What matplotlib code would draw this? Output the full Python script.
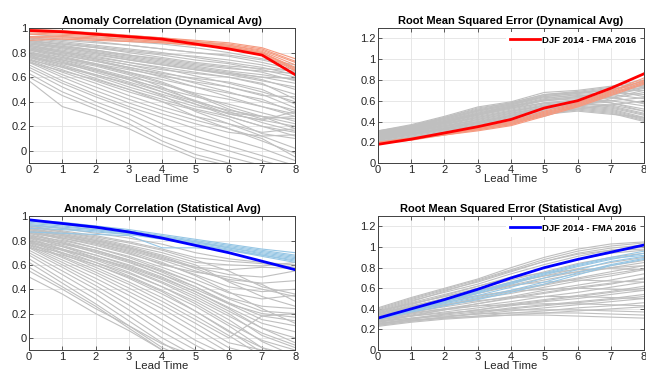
import matplotlib
matplotlib.use("Agg")
import matplotlib.pyplot as plt
import numpy as np

plt.rcParams["font.family"] = ["Liberation Sans", "DejaVu Sans"]

lead = [0, 1, 2, 3, 4, 5, 6, 7, 8]
etiqueta = "DJF 2014 - FMA 2016"

# ---- Anomaly correlation, dynamical average ----
ac_din_gris = [
    [0.95, 0.93, 0.91, 0.89, 0.87, 0.84, 0.80, 0.75, 0.70],
    [0.93, 0.91, 0.89, 0.86, 0.83, 0.80, 0.77, 0.72, 0.66],
    [0.92, 0.89, 0.86, 0.83, 0.80, 0.76, 0.72, 0.68, 0.62],
    [0.90, 0.87, 0.84, 0.81, 0.78, 0.74, 0.71, 0.66, 0.60],
    [0.89, 0.85, 0.82, 0.78, 0.75, 0.71, 0.68, 0.64, 0.57],
    [0.88, 0.84, 0.80, 0.76, 0.72, 0.68, 0.64, 0.60, 0.55],
    [0.87, 0.83, 0.79, 0.74, 0.70, 0.66, 0.63, 0.58, 0.50],
    [0.86, 0.81, 0.76, 0.72, 0.68, 0.64, 0.60, 0.54, 0.46],
    [0.85, 0.80, 0.75, 0.70, 0.66, 0.63, 0.60, 0.55, 0.42],
    [0.84, 0.78, 0.73, 0.68, 0.63, 0.59, 0.56, 0.50, 0.38],
    [0.83, 0.77, 0.71, 0.66, 0.61, 0.56, 0.52, 0.46, 0.35],
    [0.82, 0.76, 0.70, 0.64, 0.58, 0.52, 0.47, 0.42, 0.31],
    [0.81, 0.74, 0.67, 0.60, 0.54, 0.47, 0.42, 0.36, 0.28],
    [0.80, 0.73, 0.66, 0.58, 0.51, 0.44, 0.38, 0.31, 0.24],
    [0.79, 0.72, 0.64, 0.56, 0.48, 0.40, 0.33, 0.28, 0.22],
    [0.78, 0.70, 0.62, 0.54, 0.46, 0.38, 0.30, 0.25, 0.20],
    [0.77, 0.69, 0.61, 0.52, 0.44, 0.36, 0.31, 0.28, 0.26],
    [0.76, 0.68, 0.59, 0.50, 0.42, 0.34, 0.28, 0.20, 0.15],
    [0.75, 0.66, 0.57, 0.48, 0.40, 0.33, 0.26, 0.14, 0.10],
    [0.74, 0.64, 0.55, 0.45, 0.36, 0.28, 0.22, 0.12, 0.02],
    [0.73, 0.62, 0.52, 0.42, 0.33, 0.25, 0.18, 0.10, -0.05],
    [0.72, 0.60, 0.49, 0.39, 0.30, 0.22, 0.15, 0.12, 0.13],
    [0.70, 0.57, 0.46, 0.36, 0.27, 0.18, 0.10, 0.02, -0.08],
    [0.68, 0.55, 0.44, 0.34, 0.22, 0.12, 0.04, -0.04, -0.12],
    [0.66, 0.52, 0.40, 0.30, 0.18, 0.08, 0.00, -0.08, -0.15],
    [0.63, 0.48, 0.37, 0.26, 0.12, 0.03, -0.05, -0.12, -0.20],
    [0.60, 0.45, 0.34, 0.22, 0.08, -0.03, -0.10, -0.15, -0.20],
    [0.57, 0.36, 0.28, 0.18, 0.05, -0.06, -0.12, -0.20, -0.20],
    [0.90, 0.86, 0.82, 0.78, 0.74, 0.70, 0.67, 0.65, 0.63],
    [0.88, 0.85, 0.81, 0.77, 0.73, 0.69, 0.65, 0.62, 0.58],
    [0.86, 0.82, 0.78, 0.74, 0.70, 0.66, 0.62, 0.57, 0.52],
    [0.84, 0.80, 0.75, 0.70, 0.64, 0.58, 0.52, 0.45, 0.44],
    [0.82, 0.78, 0.73, 0.67, 0.60, 0.52, 0.44, 0.36, 0.30],
    [0.80, 0.76, 0.71, 0.64, 0.56, 0.46, 0.36, 0.28, 0.18],
    [0.78, 0.74, 0.69, 0.62, 0.52, 0.40, 0.30, 0.25, 0.32],
    [0.76, 0.71, 0.65, 0.58, 0.48, 0.38, 0.28, 0.20, 0.12],
    [0.74, 0.68, 0.62, 0.55, 0.45, 0.32, 0.22, 0.15, 0.18],
    [0.72, 0.65, 0.58, 0.50, 0.40, 0.28, 0.18, 0.08, -0.02],
    [0.92, 0.90, 0.88, 0.86, 0.83, 0.80, 0.78, 0.74, 0.68],
    [0.91, 0.88, 0.85, 0.82, 0.79, 0.77, 0.74, 0.70, 0.64],
    [0.89, 0.87, 0.84, 0.80, 0.76, 0.72, 0.69, 0.67, 0.65],
    [0.87, 0.84, 0.80, 0.75, 0.71, 0.67, 0.63, 0.60, 0.59],
    [0.85, 0.81, 0.77, 0.72, 0.67, 0.61, 0.55, 0.48, 0.40],
    [0.83, 0.79, 0.74, 0.68, 0.62, 0.55, 0.48, 0.40, 0.33],
    [0.79, 0.75, 0.70, 0.63, 0.55, 0.45, 0.34, 0.26, 0.28],
    [0.77, 0.72, 0.66, 0.59, 0.50, 0.41, 0.32, 0.23, 0.16],
]
ac_din_color = [
    [0.99, 0.98, 0.96, 0.94, 0.92, 0.90, 0.88, 0.84, 0.75],
    [0.98, 0.97, 0.96, 0.94, 0.92, 0.89, 0.87, 0.83, 0.73],
    [0.97, 0.96, 0.95, 0.93, 0.91, 0.89, 0.86, 0.82, 0.72],
    [0.96, 0.95, 0.94, 0.92, 0.90, 0.88, 0.86, 0.81, 0.70],
    [0.95, 0.94, 0.93, 0.91, 0.89, 0.88, 0.85, 0.80, 0.68],
    [0.93, 0.93, 0.92, 0.91, 0.89, 0.87, 0.85, 0.80, 0.66],
    [0.92, 0.92, 0.91, 0.90, 0.88, 0.86, 0.84, 0.79, 0.65],
    [0.90, 0.91, 0.90, 0.89, 0.88, 0.86, 0.84, 0.80, 0.67],
]
ac_din_media = [0.98, 0.97, 0.95, 0.93, 0.91, 0.87, 0.83, 0.78, 0.62]

# ---- RMSE, dynamical average ----
rmse_din_gris = [
    [0.31, 0.37, 0.45, 0.54, 0.59, 0.68, 0.70, 0.74, 0.80],
    [0.30, 0.36, 0.44, 0.52, 0.58, 0.66, 0.69, 0.73, 0.78],
    [0.30, 0.36, 0.43, 0.51, 0.57, 0.65, 0.68, 0.72, 0.74],
    [0.29, 0.35, 0.42, 0.50, 0.56, 0.64, 0.67, 0.70, 0.70],
    [0.29, 0.34, 0.41, 0.49, 0.55, 0.62, 0.66, 0.68, 0.66],
    [0.28, 0.34, 0.40, 0.48, 0.54, 0.61, 0.64, 0.66, 0.62],
    [0.28, 0.33, 0.40, 0.47, 0.53, 0.60, 0.63, 0.63, 0.58],
    [0.27, 0.33, 0.39, 0.46, 0.52, 0.58, 0.61, 0.60, 0.55],
    [0.27, 0.32, 0.38, 0.45, 0.51, 0.57, 0.60, 0.58, 0.52],
    [0.26, 0.32, 0.38, 0.44, 0.50, 0.56, 0.58, 0.56, 0.50],
    [0.26, 0.31, 0.37, 0.43, 0.49, 0.55, 0.57, 0.55, 0.48],
    [0.25, 0.31, 0.36, 0.42, 0.48, 0.54, 0.56, 0.53, 0.46],
    [0.25, 0.30, 0.36, 0.41, 0.47, 0.53, 0.55, 0.52, 0.44],
    [0.24, 0.30, 0.35, 0.40, 0.46, 0.52, 0.54, 0.51, 0.43],
    [0.24, 0.29, 0.34, 0.39, 0.45, 0.50, 0.53, 0.50, 0.42],
    [0.23, 0.28, 0.33, 0.38, 0.44, 0.49, 0.52, 0.49, 0.41],
    [0.23, 0.28, 0.33, 0.38, 0.43, 0.48, 0.51, 0.48, 0.40],
    [0.22, 0.27, 0.32, 0.37, 0.42, 0.47, 0.50, 0.47, 0.44],
    [0.22, 0.27, 0.32, 0.36, 0.41, 0.46, 0.52, 0.56, 0.60],
    [0.21, 0.26, 0.31, 0.36, 0.40, 0.46, 0.54, 0.62, 0.68],
    [0.21, 0.25, 0.30, 0.35, 0.39, 0.45, 0.55, 0.65, 0.72],
    [0.20, 0.25, 0.30, 0.34, 0.38, 0.47, 0.57, 0.67, 0.76],
    [0.31, 0.36, 0.44, 0.53, 0.58, 0.66, 0.68, 0.70, 0.64],
    [0.30, 0.35, 0.42, 0.50, 0.56, 0.63, 0.65, 0.64, 0.57],
    [0.28, 0.34, 0.41, 0.48, 0.55, 0.60, 0.62, 0.58, 0.50],
    [0.27, 0.33, 0.39, 0.46, 0.53, 0.58, 0.58, 0.54, 0.47],
    [0.26, 0.31, 0.37, 0.44, 0.50, 0.55, 0.57, 0.60, 0.63],
    [0.25, 0.30, 0.35, 0.42, 0.48, 0.53, 0.58, 0.63, 0.70],
    [0.24, 0.29, 0.34, 0.40, 0.46, 0.52, 0.59, 0.66, 0.73],
    [0.23, 0.28, 0.33, 0.39, 0.45, 0.51, 0.60, 0.68, 0.75],
    [0.29, 0.35, 0.43, 0.51, 0.57, 0.64, 0.67, 0.71, 0.77],
    [0.27, 0.32, 0.39, 0.47, 0.54, 0.61, 0.64, 0.69, 0.73],
]
rmse_din_color = [
    [0.19, 0.23, 0.28, 0.33, 0.38, 0.48, 0.56, 0.68, 0.80],
    [0.19, 0.23, 0.28, 0.32, 0.37, 0.47, 0.55, 0.67, 0.78],
    [0.19, 0.23, 0.27, 0.32, 0.37, 0.46, 0.55, 0.66, 0.77],
    [0.20, 0.24, 0.28, 0.33, 0.39, 0.49, 0.57, 0.69, 0.82],
    [0.19, 0.22, 0.27, 0.31, 0.36, 0.45, 0.54, 0.65, 0.76],
    [0.20, 0.24, 0.29, 0.34, 0.40, 0.50, 0.58, 0.70, 0.79],
]
rmse_din_media = [0.18, 0.23, 0.29, 0.35, 0.42, 0.53, 0.60, 0.72, 0.86]

# ---- Anomaly correlation, statistical average ----
ac_est_gris = [
    [0.93, 0.90, 0.86, 0.82, 0.77, 0.70, 0.65, 0.62, 0.60],
    [0.92, 0.88, 0.84, 0.79, 0.73, 0.66, 0.63, 0.61, 0.58],
    [0.91, 0.87, 0.82, 0.76, 0.70, 0.62, 0.60, 0.59, 0.62],
    [0.90, 0.85, 0.80, 0.74, 0.67, 0.58, 0.52, 0.50, 0.55],
    [0.89, 0.84, 0.78, 0.72, 0.64, 0.55, 0.48, 0.45, 0.47],
    [0.88, 0.82, 0.76, 0.69, 0.61, 0.52, 0.42, 0.38, 0.40],
    [0.87, 0.81, 0.74, 0.67, 0.58, 0.48, 0.37, 0.32, 0.35],
    [0.86, 0.79, 0.72, 0.64, 0.55, 0.45, 0.32, 0.22, 0.20],
    [0.85, 0.78, 0.70, 0.62, 0.52, 0.42, 0.28, 0.15, 0.10],
    [0.84, 0.76, 0.68, 0.59, 0.49, 0.38, 0.24, 0.08, 0.00],
    [0.83, 0.75, 0.66, 0.57, 0.46, 0.34, 0.20, 0.02, -0.08],
    [0.82, 0.73, 0.64, 0.54, 0.42, 0.30, 0.15, -0.03, -0.15],
    [0.81, 0.72, 0.62, 0.51, 0.39, 0.26, 0.10, -0.08, -0.20],
    [0.80, 0.70, 0.60, 0.49, 0.36, 0.22, 0.06, -0.12, -0.20],
    [0.79, 0.69, 0.58, 0.46, 0.33, 0.18, 0.02, -0.15, -0.20],
    [0.78, 0.67, 0.56, 0.44, 0.30, 0.15, 0.00, 0.18, 0.20],
    [0.77, 0.66, 0.54, 0.41, 0.27, 0.12, -0.04, -0.10, -0.15],
    [0.76, 0.64, 0.52, 0.38, 0.24, 0.08, -0.08, -0.15, -0.20],
    [0.75, 0.62, 0.49, 0.35, 0.20, 0.04, -0.12, -0.20, -0.20],
    [0.74, 0.60, 0.46, 0.31, 0.15, -0.02, -0.15, -0.20, -0.20],
    [0.72, 0.58, 0.43, 0.27, 0.10, -0.06, -0.20, -0.20, -0.20],
    [0.70, 0.55, 0.40, 0.23, 0.05, -0.10, -0.20, -0.20, -0.20],
    [0.68, 0.52, 0.36, 0.18, 0.00, -0.15, -0.20, -0.20, -0.20],
    [0.65, 0.48, 0.32, 0.14, -0.04, -0.20, -0.20, -0.20, -0.20],
    [0.62, 0.45, 0.28, 0.10, -0.08, -0.20, -0.20, -0.20, -0.20],
    [0.58, 0.42, 0.26, 0.08, -0.10, -0.20, -0.20, -0.20, -0.20],
    [0.55, 0.40, 0.24, 0.10, -0.05, -0.15, -0.20, -0.20, -0.20],
    [0.50, 0.36, 0.20, 0.06, -0.10, -0.20, -0.20, -0.20, -0.20],
    [0.88, 0.84, 0.79, 0.73, 0.65, 0.58, 0.56, 0.58, 0.57],
    [0.86, 0.82, 0.77, 0.70, 0.60, 0.54, 0.50, 0.44, 0.30],
    [0.84, 0.80, 0.74, 0.66, 0.56, 0.45, 0.33, 0.26, 0.24],
    [0.82, 0.77, 0.71, 0.63, 0.52, 0.40, 0.28, 0.20, 0.17],
    [0.80, 0.75, 0.68, 0.60, 0.50, 0.38, 0.25, 0.12, 0.05],
    [0.78, 0.72, 0.65, 0.56, 0.45, 0.32, 0.18, 0.04, -0.06],
    [0.76, 0.70, 0.62, 0.53, 0.42, 0.28, 0.12, -0.02, -0.10],
    [0.74, 0.68, 0.60, 0.50, 0.38, 0.22, 0.05, -0.08, -0.15],
    [0.90, 0.86, 0.81, 0.75, 0.68, 0.60, 0.46, 0.34, 0.26],
    [0.92, 0.87, 0.83, 0.78, 0.72, 0.64, 0.55, 0.42, 0.36],
    [0.89, 0.85, 0.80, 0.74, 0.66, 0.57, 0.47, 0.40, 0.34],
    [0.87, 0.83, 0.78, 0.71, 0.62, 0.51, 0.38, 0.24, 0.12],
    [0.83, 0.78, 0.72, 0.64, 0.54, 0.42, 0.29, 0.18, 0.14],
    [0.79, 0.73, 0.66, 0.58, 0.48, 0.36, 0.22, 0.08, -0.04],
]
ac_est_color = [
    [0.97, 0.95, 0.92, 0.89, 0.85, 0.81, 0.77, 0.73, 0.70],
    [0.96, 0.94, 0.91, 0.88, 0.84, 0.80, 0.76, 0.72, 0.68],
    [0.95, 0.93, 0.90, 0.87, 0.83, 0.79, 0.75, 0.71, 0.67],
    [0.94, 0.92, 0.89, 0.86, 0.83, 0.79, 0.74, 0.70, 0.66],
    [0.93, 0.91, 0.89, 0.86, 0.82, 0.78, 0.74, 0.69, 0.65],
    [0.92, 0.90, 0.88, 0.85, 0.82, 0.77, 0.73, 0.68, 0.63],
    [0.90, 0.89, 0.87, 0.85, 0.81, 0.77, 0.72, 0.67, 0.62],
    [0.87, 0.86, 0.85, 0.84, 0.74, 0.74, 0.72, 0.68, 0.64],
]
ac_est_media = [0.97, 0.94, 0.91, 0.87, 0.82, 0.76, 0.70, 0.63, 0.56]

# ---- RMSE, statistical average ----
rmse_est_gris = [
    [0.41, 0.51, 0.60, 0.69, 0.80, 0.90, 0.98, 1.03, 1.05],
    [0.40, 0.50, 0.59, 0.68, 0.78, 0.88, 0.96, 1.01, 1.04],
    [0.39, 0.49, 0.58, 0.66, 0.76, 0.86, 0.94, 0.99, 1.02],
    [0.38, 0.48, 0.56, 0.64, 0.74, 0.83, 0.91, 0.97, 1.00],
    [0.37, 0.46, 0.54, 0.62, 0.71, 0.80, 0.88, 0.94, 0.97],
    [0.36, 0.45, 0.52, 0.60, 0.68, 0.76, 0.84, 0.90, 0.94],
    [0.35, 0.43, 0.50, 0.57, 0.65, 0.72, 0.79, 0.85, 0.90],
    [0.34, 0.42, 0.48, 0.55, 0.62, 0.68, 0.74, 0.80, 0.85],
    [0.33, 0.40, 0.46, 0.52, 0.58, 0.64, 0.70, 0.76, 0.82],
    [0.32, 0.38, 0.44, 0.50, 0.55, 0.61, 0.67, 0.72, 0.78],
    [0.31, 0.37, 0.42, 0.47, 0.52, 0.58, 0.63, 0.68, 0.74],
    [0.30, 0.35, 0.40, 0.45, 0.50, 0.55, 0.60, 0.64, 0.70],
    [0.29, 0.34, 0.39, 0.43, 0.47, 0.52, 0.56, 0.61, 0.66],
    [0.28, 0.33, 0.37, 0.41, 0.45, 0.49, 0.53, 0.57, 0.62],
    [0.27, 0.31, 0.35, 0.39, 0.43, 0.47, 0.50, 0.54, 0.58],
    [0.26, 0.30, 0.34, 0.37, 0.41, 0.44, 0.47, 0.50, 0.54],
    [0.25, 0.29, 0.32, 0.35, 0.38, 0.41, 0.44, 0.47, 0.50],
    [0.24, 0.28, 0.31, 0.33, 0.36, 0.38, 0.41, 0.43, 0.46],
    [0.23, 0.27, 0.30, 0.32, 0.34, 0.36, 0.38, 0.40, 0.42],
    [0.26, 0.29, 0.31, 0.33, 0.34, 0.34, 0.33, 0.32, 0.31],
    [0.28, 0.31, 0.33, 0.35, 0.36, 0.36, 0.36, 0.35, 0.34],
    [0.30, 0.33, 0.36, 0.38, 0.39, 0.39, 0.39, 0.38, 0.37],
    [0.32, 0.36, 0.40, 0.43, 0.44, 0.45, 0.45, 0.44, 0.43],
    [0.34, 0.39, 0.44, 0.48, 0.51, 0.52, 0.52, 0.51, 0.50],
    [0.36, 0.42, 0.48, 0.53, 0.57, 0.59, 0.60, 0.59, 0.58],
    [0.38, 0.45, 0.52, 0.58, 0.63, 0.66, 0.68, 0.67, 0.66],
    [0.35, 0.44, 0.53, 0.62, 0.70, 0.75, 0.78, 0.79, 0.78],
    [0.33, 0.42, 0.50, 0.58, 0.66, 0.72, 0.76, 0.80, 0.82],
    [0.37, 0.47, 0.57, 0.67, 0.77, 0.86, 0.93, 0.97, 0.98],
    [0.31, 0.39, 0.47, 0.55, 0.63, 0.70, 0.76, 0.82, 0.87],
    [0.29, 0.36, 0.43, 0.50, 0.57, 0.63, 0.69, 0.74, 0.79],
    [0.27, 0.33, 0.39, 0.45, 0.51, 0.56, 0.61, 0.65, 0.69],
    [0.25, 0.30, 0.35, 0.39, 0.44, 0.48, 0.52, 0.56, 0.60],
    [0.24, 0.28, 0.32, 0.36, 0.40, 0.43, 0.46, 0.49, 0.52],
]
rmse_est_color = [
    [0.30, 0.39, 0.48, 0.57, 0.66, 0.75, 0.83, 0.90, 0.96],
    [0.30, 0.39, 0.47, 0.55, 0.64, 0.73, 0.81, 0.88, 0.94],
    [0.31, 0.40, 0.48, 0.56, 0.65, 0.74, 0.82, 0.89, 0.92],
    [0.30, 0.38, 0.46, 0.53, 0.61, 0.70, 0.78, 0.86, 0.91],
    [0.31, 0.38, 0.45, 0.51, 0.58, 0.66, 0.75, 0.83, 0.89],
    [0.30, 0.37, 0.43, 0.49, 0.56, 0.64, 0.73, 0.82, 0.88],
]
rmse_est_media = [0.31, 0.40, 0.49, 0.59, 0.70, 0.80, 0.88, 0.95, 1.02]

gris = "#bfbfbf"
paneles = [
    # (posicion, titulo, gris, finas, gruesa, color fino, color grueso, ylim, yticks, leyenda)
    ([0.045, 0.564, 0.412, 0.361], "Anomaly Correlation (Dynamical Avg)",
     ac_din_gris, ac_din_color, ac_din_media, "#f59a80", "#ff0000",
     (-0.1, 1.0), [0, 0.2, 0.4, 0.6, 0.8, 1], False),
    ([0.585, 0.564, 0.412, 0.361], "Root Mean Squared Error (Dynamical Avg)",
     rmse_din_gris, rmse_din_color, rmse_din_media, "#f59a80", "#ff0000",
     (0, 1.3), [0, 0.2, 0.4, 0.6, 0.8, 1, 1.2], True),
    ([0.045, 0.064, 0.412, 0.358], "Anomaly Correlation (Statistical Avg)",
     ac_est_gris, ac_est_color, ac_est_media, "#96c6e4", "#0000ff",
     (-0.1, 1.0), [0, 0.2, 0.4, 0.6, 0.8, 1], False),
    ([0.585, 0.064, 0.412, 0.358], "Root Mean Squared Error (Statistical Avg)",
     rmse_est_gris, rmse_est_color, rmse_est_media, "#96c6e4", "#0000ff",
     (0, 1.3), [0, 0.2, 0.4, 0.6, 0.8, 1, 1.2], True),
]

fig = plt.figure(figsize=(6.46, 3.74), dpi=100)

for pos, titulo, g, finas, media, c_fino, c_grueso, ylim, yticks, leyenda in paneles:
    ax = fig.add_axes(pos)
    for serie in g:
        ax.plot(lead, serie, color=gris, lw=0.8)
    for serie in finas:
        ax.plot(lead, serie, color=c_fino, lw=0.8)
    ax.plot(lead, media, color=c_grueso, lw=2.0, label=etiqueta)
    ax.set_xlim(0, 8)
    ax.set_ylim(*ylim)
    ax.set_xticks(lead)
    ax.set_yticks(yticks)
    ax.set_yticklabels(["%g" % v for v in yticks])
    ax.grid(True, color="#e3e3e3", lw=0.6)
    ax.set_axisbelow(True)
    ax.tick_params(direction="in", top=True, right=True, labelsize=8,
                   length=3, width=0.6, colors="#404040", labelcolor="#262626", pad=1.5)
    for s in ax.spines.values():
        s.set_color("#404040")
        s.set_linewidth(0.7)
    ax.set_title(titulo, fontsize=8, fontweight="bold", pad=3)
    ax.set_xlabel("Lead Time", fontsize=8.2, labelpad=-0.5, color="#262626")
    if leyenda:
        leg = ax.legend(loc="upper right", fontsize=6.8, frameon=True,
                        handlelength=3.2, handletextpad=0.2, borderaxespad=0.4)
        leg.get_frame().set_edgecolor("none")
        leg.get_frame().set_facecolor("white")
        leg.get_frame().set_alpha(1)
        for t in leg.get_texts():
            t.set_fontweight("bold")

fig.savefig("out.png", dpi=100)
